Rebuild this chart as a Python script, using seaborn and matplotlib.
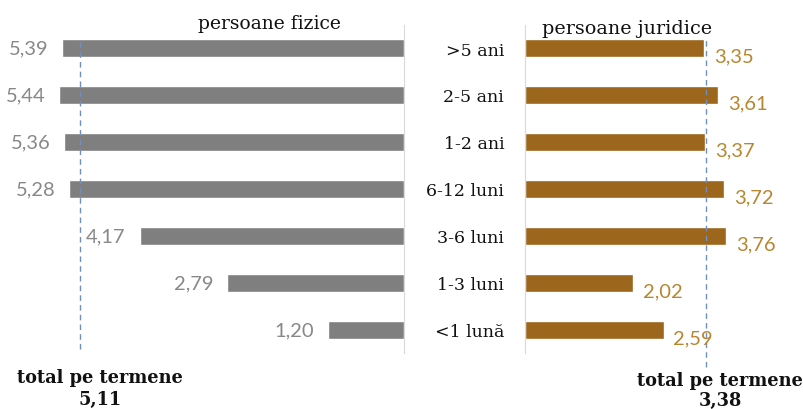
import matplotlib
matplotlib.use("Agg")
import matplotlib.pyplot as plt
import seaborn as sns
import pandas as pd

categories = [">5 ani", "2-5 ani", "1-2 ani", "6-12 luni", "3-6 luni", "1-3 luni", "<1 lună"]
fizice = [5.39, 5.44, 5.36, 5.28, 4.17, 2.79, 1.20]
juridice = [3.35, 3.61, 3.37, 3.72, 3.76, 2.02, 2.59]
total_fizice = 5.11
total_juridice = 3.38
title_left = "persoane fizice"
title_right = "persoane juridice"
total_label = "total pe termene"

sns.set_style("white")
SERIF = ["DejaVu Serif"]
NUM = ["Lato", "DejaVu Sans"]

GRAY = "#7f7f7f"
GRAY_TXT = "#888888"
BROWN = "#9c661c"
BROWN_TXT = "#b8862f"
DASH = "#6f8fbf"

W, H = 804, 410
fig = plt.figure(figsize=(W / 100, H / 100), dpi=100)

top_px, bot_px = 25.5, 354.5
def ax_rect(x0, x1):
    return [x0 / W, 1 - bot_px / H, (x1 - x0) / W, (bot_px - top_px) / H]

ax1 = fig.add_axes(ax_rect(0, 404))
ax2 = fig.add_axes(ax_rect(525, 804))

df = pd.DataFrame({"cat": categories, "fiz": fizice, "jur": juridice})

sns.barplot(data=df, x="fiz", y="cat", ax=ax1, color=GRAY, width=0.4,
            saturation=1, orient="h")
sns.barplot(data=df, x="jur", y="cat", ax=ax2, color=BROWN, width=0.4,
            saturation=1, orient="h")

ax1.set_xlim(404 / 63.4, 0)
ax2.set_xlim(0, 279 / 53.5)
for ax in (ax1, ax2):
    ax.set_ylim(6.5, -0.5)
    ax.set_xlabel("")
    ax.set_ylabel("")
    ax.set_xticks([])
    for s in ax.spines.values():
        s.set_visible(False)
    ax.patch.set_alpha(0)

ax1.set_yticks([])
ax1.spines["right"].set_visible(True)
ax1.spines["right"].set_color("#d9d9d9")
ax2.spines["left"].set_visible(True)
ax2.spines["left"].set_color("#d9d9d9")
ax2.set_yticks(range(len(categories)))
ax2.set_yticklabels(categories, fontfamily=SERIF, fontsize=12.5, color="#111111")
ax2.tick_params(axis="y", length=0, pad=15)

def fmt(v):
    return f"{v:.2f}".replace(".", ",")

for i, v in enumerate(fizice):
    ax1.annotate(fmt(v), (v, i), xytext=(-10, 0), textcoords="offset points",
                 ha="right", va="center", fontsize=14.5, color=GRAY_TXT, family=NUM)
for i, v in enumerate(juridice):
    ax2.annotate(fmt(v), (v, i), xytext=(7, -6), textcoords="offset points",
                 ha="left", va="center", fontsize=14.5, color=BROWN_TXT, family=NUM)

ax1.axvline(total_fizice, ymin=0.015, ymax=0.95, color=DASH, lw=1,
            ls=(0, (4, 3)), clip_on=False)
ax2.axvline(total_juridice, ymin=-0.04, ymax=0.955, color=DASH, lw=1,
            ls=(0, (4, 3)), clip_on=False)

fig.text(269 / W, 1 - 24 / H, title_left, ha="center", va="center",
         fontsize=13.5, family=SERIF, color="#111111")
fig.text(627 / W, 1 - 29 / H, title_right, ha="center", va="center",
         fontsize=13.8, family=SERIF, color="#111111")

fig.text(100 / W, 1 - 378 / H, total_label, ha="center", va="center",
         fontsize=12.8, family=SERIF, weight="bold", color="#111111")
fig.text(100 / W, 1 - 400 / H, fmt(total_fizice), ha="center", va="center",
         fontsize=12.8, family=SERIF, weight="bold", color="#111111")
fig.text(720 / W, 1 - 381 / H, total_label, ha="center", va="center",
         fontsize=12.8, family=SERIF, weight="bold", color="#111111")
fig.text(720 / W, 1 - 401 / H, fmt(total_juridice), ha="center", va="center",
         fontsize=12.8, family=SERIF, weight="bold", color="#111111")

fig.savefig("out.png", dpi=100)
